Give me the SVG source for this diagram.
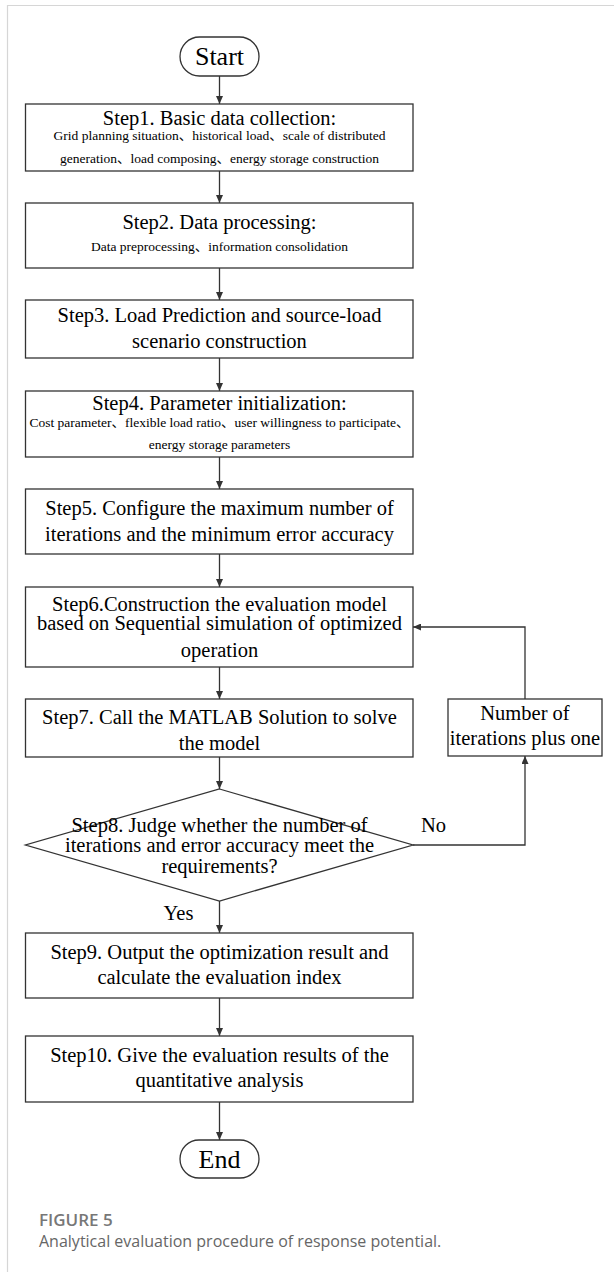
<svg xmlns="http://www.w3.org/2000/svg" width="614" height="1272" viewBox="0 0 614 1272">
<defs>
<style>
.box{fill:#fff;stroke:#333;stroke-width:1.3}
.t{font-family:"Liberation Serif","Noto Sans CJK SC",serif;font-size:20.5px;fill:#000;text-anchor:middle}
.s{font-family:"Liberation Serif","Noto Sans CJK SC",serif;font-size:13.5px;fill:#000;text-anchor:middle}
.big{font-size:26px}
.c{stroke:#333;stroke-width:1.3;fill:none}
.cap1{font-family:"Open Sans","Noto Sans",sans-serif;font-size:17px;font-weight:600;fill:#777}
.cap2{font-family:"Open Sans","Noto Sans",sans-serif;font-size:16px;fill:#666}
</style>
<marker id="ah" markerUnits="userSpaceOnUse" markerWidth="8" markerHeight="7" refX="8" refY="3.5" orient="auto">
<path d="M0,0 L8,3.5 L0,7 z" fill="#333"/>
</marker>
</defs>
<rect width="614" height="1272" fill="#fff"/>
<path d="M7.5,1272 V5.5 H614" fill="none" stroke="#d6d6d6" stroke-width="1.2"/>

<g id="connectors">
<line class="c" x1="219.5" y1="76" x2="219.5" y2="104" marker-end="url(#ah)"/>
<line class="c" x1="219.5" y1="171" x2="219.5" y2="203" marker-end="url(#ah)"/>
<line class="c" x1="219.5" y1="268" x2="219.5" y2="300" marker-end="url(#ah)"/>
<line class="c" x1="219.5" y1="358" x2="219.5" y2="391" marker-end="url(#ah)"/>
<line class="c" x1="219.5" y1="457" x2="219.5" y2="489" marker-end="url(#ah)"/>
<line class="c" x1="219.5" y1="554" x2="219.5" y2="587" marker-end="url(#ah)"/>
<line class="c" x1="219.5" y1="667" x2="219.5" y2="699" marker-end="url(#ah)"/>
<line class="c" x1="219.5" y1="757" x2="219.5" y2="789" marker-end="url(#ah)"/>
<line class="c" x1="219.5" y1="901" x2="219.5" y2="933" marker-end="url(#ah)"/>
<line class="c" x1="219.5" y1="998" x2="219.5" y2="1036" marker-end="url(#ah)"/>
<line class="c" x1="219.5" y1="1102" x2="219.5" y2="1140" marker-end="url(#ah)"/>
<polyline class="c" points="413,845 525,845 525,756" marker-end="url(#ah)"/>
<polyline class="c" points="525,699 525,627 413,627" marker-end="url(#ah)"/>
<text class="t" x="433.5" y="832">No</text>
<text class="t" x="178.5" y="920">Yes</text>
</g>

<g id="start">
<rect class="box" x="180" y="37" width="79" height="39" rx="19.5"/>
<text class="t big" x="219.5" y="65">Start</text>
</g>

<g id="step1">
<rect class="box" x="25.5" y="104" width="387.5" height="67"/>
<text class="t" x="219.5" y="125">Step1. Basic data collection:</text>
<text class="s" x="219.5" y="140">Grid planning situation、historical load、scale of distributed</text>
<text class="s" x="219.5" y="163">generation、load composing、energy storage construction</text>
</g>

<g id="step2">
<rect class="box" x="25.5" y="203" width="387.5" height="65"/>
<text class="t" x="219.5" y="229">Step2. Data processing:</text>
<text class="s" x="219.5" y="251">Data preprocessing、information consolidation</text>
</g>

<g id="step3">
<rect class="box" x="25.5" y="300" width="387.5" height="58"/>
<text class="t" x="219.5" y="322">Step3. Load Prediction and source-load</text>
<text class="t" x="219.5" y="348">scenario construction</text>
</g>

<g id="step4">
<rect class="box" x="25.5" y="391" width="387.5" height="66"/>
<text class="t" x="219.5" y="410">Step4. Parameter initialization:</text>
<text class="s" x="219.5" y="427">Cost parameter、flexible load ratio、user willingness to participate、</text>
<text class="s" x="219.5" y="449">energy storage parameters</text>
</g>

<g id="step5">
<rect class="box" x="25.5" y="489" width="387.5" height="65"/>
<text class="t" x="219.5" y="515">Step5. Configure the maximum number of</text>
<text class="t" x="219.5" y="541">iterations and the minimum error accuracy</text>
</g>

<g id="step6">
<rect class="box" x="25.5" y="587" width="387.5" height="80"/>
<text class="t" x="219.5" y="611">Step6.Construction the evaluation model</text>
<text class="t" x="219.5" y="630">based on Sequential simulation of optimized</text>
<text class="t" x="219.5" y="657">operation</text>
</g>

<g id="step7">
<rect class="box" x="25.5" y="699" width="387.5" height="58"/>
<text class="t" x="219.5" y="724">Step7. Call the MATLAB Solution to solve</text>
<text class="t" x="219.5" y="750">the model</text>
</g>

<g id="iterbox">
<rect class="box" x="448" y="699" width="154" height="57"/>
<text class="t" x="525" y="720">Number of</text>
<text class="t" x="525" y="745">iterations plus one</text>
</g>

<g id="step8">
<polygon class="box" points="219.5,789 413,845 219.5,901 25.5,845"/>
<text class="t" x="219.5" y="832">Step8. Judge whether the number of</text>
<text class="t" x="219.5" y="852">iterations and error accuracy meet the</text>
<text class="t" x="219.5" y="873">requirements?</text>
</g>

<g id="step9">
<rect class="box" x="25.5" y="933" width="387.5" height="65"/>
<text class="t" x="219.5" y="959">Step9. Output the optimization result and</text>
<text class="t" x="219.5" y="984">calculate the evaluation index</text>
</g>

<g id="step10">
<rect class="box" x="25.5" y="1036" width="387.5" height="66"/>
<text class="t" x="219.5" y="1062">Step10. Give the evaluation results of the</text>
<text class="t" x="219.5" y="1087">quantitative analysis</text>
</g>

<g id="end">
<rect class="box" x="180" y="1140" width="79" height="38" rx="19"/>
<text class="t big" x="219.5" y="1168">End</text>
</g>

<g id="caption">
<text class="cap1" x="39" y="1226">FIGURE 5</text>
<text class="cap2" x="39" y="1247">Analytical evaluation procedure of response potential.</text>
</g>
</svg>
